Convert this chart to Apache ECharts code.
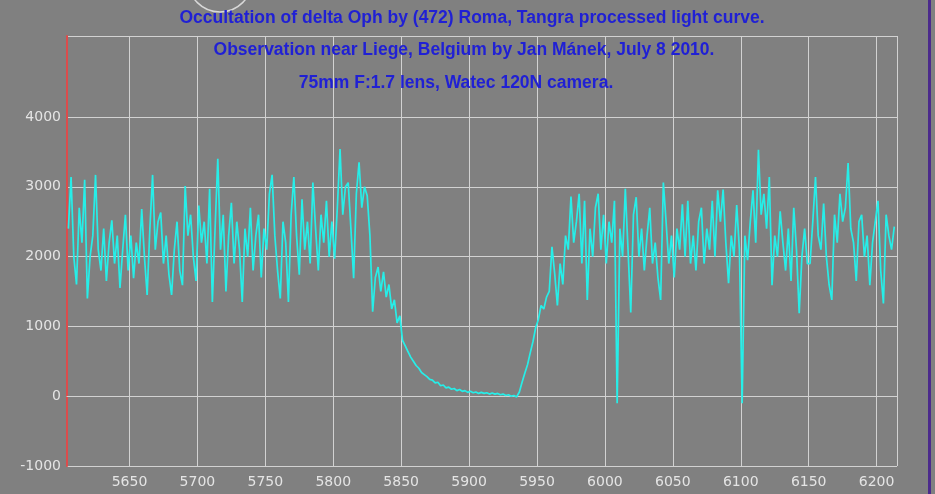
<!DOCTYPE html>
<html>
<head>
<meta charset="utf-8">
<script src="https://cdn.jsdelivr.net/npm/echarts@6/dist/echarts.min.js"></script>
<style>
html, body { margin: 0; padding: 0; background: #808080; }
#chart { width: 935px; height: 494px; }
</style>
</head>
<body>
<div id="chart"></div>
<script>
var chart = echarts.init(document.getElementById('chart'));

var titleLines = [
    'Occultation of delta Oph by (472) Roma, Tangra processed light curve.',
    'Observation near Liege, Belgium by Jan Mánek, July 8 2010.',
    '75mm F:1.7 lens, Watec 120N camera.'
];

// frame numbers: first frame and spacing of the read-off samples
var firstFrame = 5605;
var frameStep = 2;

// before the occultation (frames 5605 - 5829)
var fluxBefore = [
    2400, 3140, 2000, 1600, 2700, 2200, 3100, 1400, 2000, 2300,
    3170, 2100, 1800, 2400, 1650, 2200, 2520, 1900, 2300, 1550,
    2100, 2600, 1800, 2300, 1690, 2200, 1900, 2680, 2000, 1450,
    2400, 3170, 2100, 2500, 2630, 1900, 2300, 1750, 1450, 2100,
    2500, 1800, 1590, 3010, 2300, 2600, 2000, 1650, 2730, 2200,
    2500, 1900, 2970, 1350, 2400, 3400, 2100, 2600, 1500, 2300,
    2770, 1900, 2500, 2100, 1350, 2400, 2000, 2700, 1800, 2300,
    2600, 1700, 2400, 2100, 2900, 3170, 2300, 1800, 1400, 2500,
    2200, 1350, 2600, 3140, 2300, 1740, 2820, 2100, 2500, 1900,
    3060, 2400, 1800, 2600, 2200, 2800, 2000, 2500, 1970, 2700,
    3540, 2600, 3000, 3060, 2400, 1690, 2900, 3350, 2700, 3000,
    2870, 2300, 1210
];

// the occultation (frames 5831 - 5963)
var fluxDip = [
    1700, 1850, 1500, 1780, 1420, 1600, 1250, 1380, 1050, 1150,
    800, 720, 640, 560, 500, 440, 400, 340, 310, 280,
    240, 230, 190, 200, 150, 160, 120, 130, 100, 110,
    80, 95, 70, 80, 55, 70, 50, 60, 40, 55,
    40, 50, 30, 45, 30, 40, 20, 30, 10, 20,
    0, 10, -10, 60, 200, 330, 450, 620, 780, 980,
    1100, 1300, 1250, 1420, 1500, 2140, 1760
];

// after the occultation (frames 5965 - 6213)
var fluxAfter = [
    1300, 1900, 1600, 2300, 2100, 2860, 2200, 2500, 2900, 1900,
    2800, 1380, 2400, 2000, 2700, 2900, 2100, 2600, 1900, 2500,
    2200, 2800, -100, 2400, 2000, 2970, 2100, 1200, 2600, 2850,
    2000, 2400, 1800, 2300, 2700, 1900, 2200, 1700, 1380, 3060,
    2500, 1900, 2300, 1700, 2400, 2100, 2750, 2000, 2800, 1900,
    2300, 1800, 2500, 2700, 1900, 2400, 2100, 2800, 2000, 2950,
    2500, 2960, 2200, 1620, 2300, 2000, 2740, 2100, -100, 2300,
    1950, 2500, 2950, 2200, 3530, 2600, 2900, 2400, 3140, 1590,
    2300, 2000, 2650, 2200, 1800, 2400, 1650, 2700, 2100, 1190,
    2000, 2400, 1900, 1900, 2500, 3140, 2300, 2100, 2760, 2000,
    1600, 1380, 2600, 2200, 2900, 2500, 2700, 3340, 2400, 2200,
    1650, 2500, 2600, 2000, 2300, 1590, 2200, 2500, 2800, 1800,
    1330, 2600, 2300, 2100, 2430
];

var flux = fluxBefore.concat(fluxDip, fluxAfter);
var lineData = [];
for (var i = 0; i < flux.length; i++) {
    lineData.push([firstFrame + i * frameStep, flux[i]]);
}

var titleColor = '#2020d4';
var labelColor = '#e4e4e4';
var gridColor = '#d2d2d2';
var titleFont = 'bold 17.5px "Liberation Sans", Arial, sans-serif';

option = {
    backgroundColor: '#808080',
    animation: false,
    grid: {
        left: 67,
        right: 38,
        top: 36,
        bottom: 28
    },
    xAxis: {
        type: 'value',
        min: 5604,
        max: 6215,
        splitNumber: 12,
        axisLine: {
            show: true,
            lineStyle: { color: gridColor, width: 1 }
        },
        axisTick: { show: false },
        axisLabel: {
            color: labelColor,
            fontFamily: 'DejaVu Sans',
            fontSize: 14,
            margin: 9,
            showMinLabel: false,
            showMaxLabel: false,
            formatter: function (v) { return String(v); }
        },
        splitLine: {
            show: true,
            lineStyle: { color: gridColor, width: 1 }
        }
    },
    yAxis: {
        type: 'value',
        min: -1000,
        max: 5160,
        interval: 1000,
        axisLine: {
            show: true,
            lineStyle: { color: '#dc4c4c', width: 2 }
        },
        axisTick: { show: false },
        axisLabel: {
            color: labelColor,
            fontFamily: 'DejaVu Sans',
            fontSize: 14,
            margin: 6,
            showMaxLabel: false,
            formatter: function (v) { return v > 4000 ? '' : String(v); }
        },
        splitLine: {
            show: true,
            // no grid line at 5000, the top border stays
            lineStyle: {
                color: [gridColor, gridColor, gridColor, gridColor, gridColor, gridColor, 'rgba(0,0,0,0)', gridColor],
                width: 1
            }
        }
    },
    graphic: [
        {
            type: 'circle',
            shape: { cx: 220, cy: -20, r: 32 },
            style: { fill: 'none', stroke: '#d8d8d8', lineWidth: 1.5 },
            z: 5
        },
        {
            type: 'text',
            x: 472, y: 18,
            style: {
                text: titleLines[0], fill: titleColor, font: titleFont,
                align: 'center', verticalAlign: 'middle'
            },
            z: 10
        },
        {
            type: 'text',
            x: 464, y: 50,
            style: {
                text: titleLines[1], fill: titleColor, font: titleFont,
                align: 'center', verticalAlign: 'middle'
            },
            z: 10
        },
        {
            type: 'text',
            x: 456, y: 83,
            style: {
                text: titleLines[2], fill: titleColor, font: titleFont,
                align: 'center', verticalAlign: 'middle'
            },
            z: 10
        },
        {
            type: 'rect',
            shape: { x: 928, y: 0, width: 3, height: 494 },
            style: { fill: '#4b2a8c' },
            z: 10
        }
    ],
    series: [{
        type: 'line',
        data: lineData,
        showSymbol: false,
        symbol: 'none',
        lineStyle: { color: '#26eee8', width: 1.7 },
        z: 3
    }]
};

chart.setOption(option);
</script>
</body>
</html>
